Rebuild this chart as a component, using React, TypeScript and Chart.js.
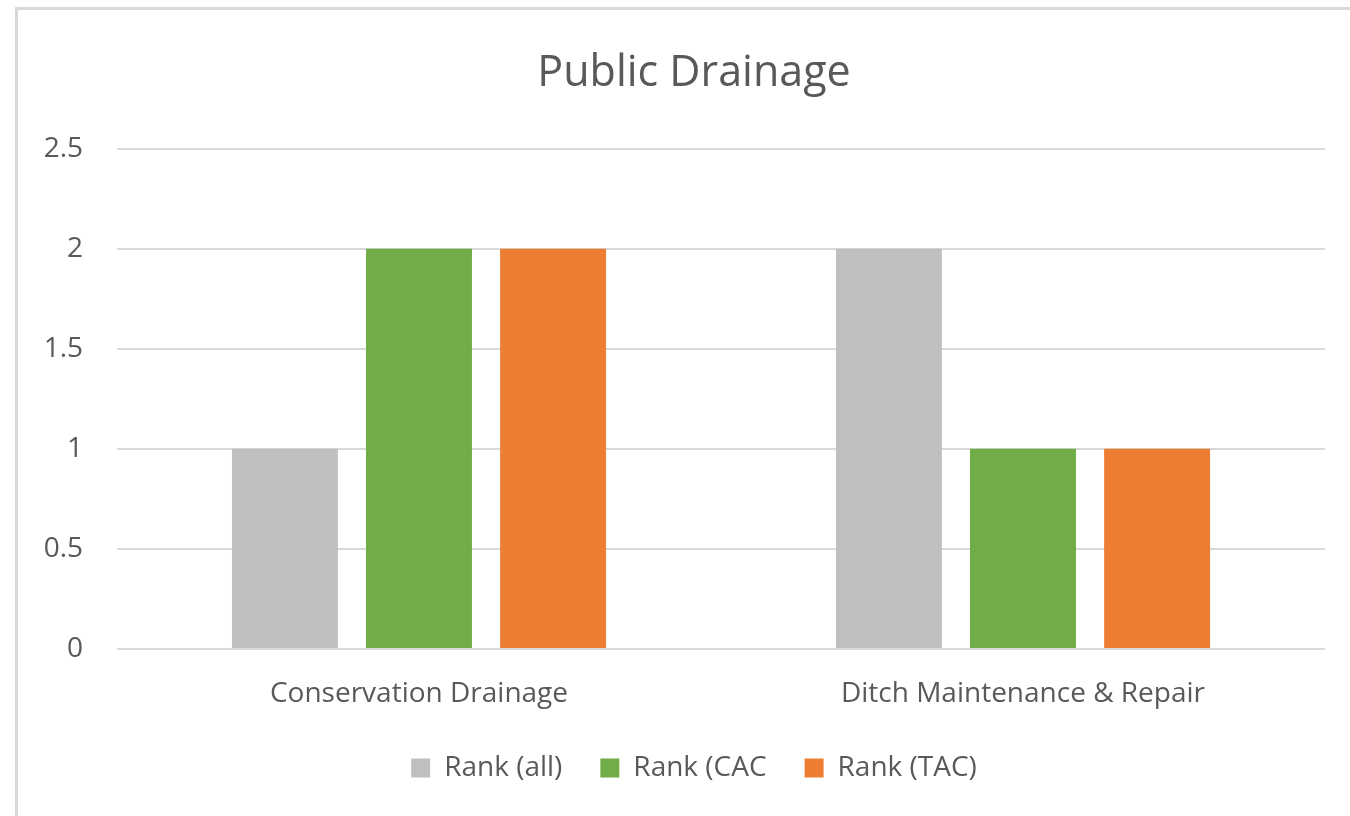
import React, { useEffect, useRef } from "react";
import { Chart, registerables } from "chart.js";

Chart.register(...registerables);

const categories = ["Conservation Drainage", "Ditch Maintenance & Repair"];
const seriesNames = ["Rank (all)", "Rank (CAC", "Rank (TAC)"];
const rankAll = [1, 2];
const rankCAC = [2, 1];
const rankTAC = [2, 1];
const seriesColors = ["#bfbfbf", "#70ad47", "#ed7d31"];
const titleText = "Public Drainage";
const yMin = 0;
const yMax = 2.5;
const yStep = 0.5;

const FONT = "'Open Sans', sans-serif";
const TEXT = "#595959";

export default function App() {
  const ref = useRef<HTMLCanvasElement | null>(null);

  useEffect(() => {
    if (!ref.current) return;
    const values = [rankAll, rankCAC, rankTAC];
    const chart = new Chart(ref.current, {
      type: "bar",
      data: {
        labels: categories,
        datasets: seriesNames.map((name, i) => ({
          label: name,
          data: values[i],
          backgroundColor: seriesColors[i],
          borderWidth: 0,
          categoryPercentage: 0.666,
          barPercentage: 0.79,
          yAxisID: "y",
        })),
      },
      options: {
        responsive: false,
        animation: false,
        layout: { padding: { left: 25, right: 27, top: 0, bottom: 0 } },
        plugins: {
          title: {
            display: true,
            text: titleText,
            color: TEXT,
            font: { family: FONT, size: 43, weight: "normal" },
            padding: { top: 38, bottom: 49 },
          },
          legend: {
            position: "bottom",
            labels: {
              color: TEXT,
              font: { family: FONT, size: 28 },
              boxWidth: 19,
              boxHeight: 19,
              padding: 38,
            },
          },
          tooltip: { enabled: false },
        },
        scales: {
          x: {
            grid: { display: false },
            border: { display: false },
            ticks: { color: TEXT, font: { family: FONT, size: 28 }, padding: 20 },
            afterFit: (scale: any) => {
              scale.height = 67;
            },
          },
          y: {
            min: yMin,
            max: yMax,
            ticks: {
              stepSize: yStep,
              color: TEXT,
              font: { family: FONT, size: 28 },
              padding: 34,
              callback: (v: any) => String(Number(v)),
            },
            grid: { color: "#d9d9d9", lineWidth: 2, drawTicks: false },
            border: { display: false },
            afterFit: (scale: any) => {
              scale.width = 74;
            },
          },
          yRight: {
            position: "right",
            display: true,
            min: yMin,
            max: yMax,
            ticks: { display: false },
            grid: { display: false, drawOnChartArea: false },
            border: { display: false },
            afterFit: (scale: any) => {
              scale.width = 20;
            },
          },
        },
      },
    });
    return () => chart.destroy();
  }, []);

  return (
    <div
      style={{
        position: "fixed",
        left: 0,
        top: 0,
        width: 1350,
        height: 816,
        overflow: "hidden",
        background: "#fff",
      }}
    >
      <div
        style={{
          position: "absolute",
          left: 15,
          top: 7,
          width: 1360,
          height: 900,
          border: "3px solid #d9d9d9",
          boxSizing: "border-box",
        }}
      >
        <canvas ref={ref} width={1354} height={782} style={{ display: "block" }} />
      </div>
    </div>
  );
}
